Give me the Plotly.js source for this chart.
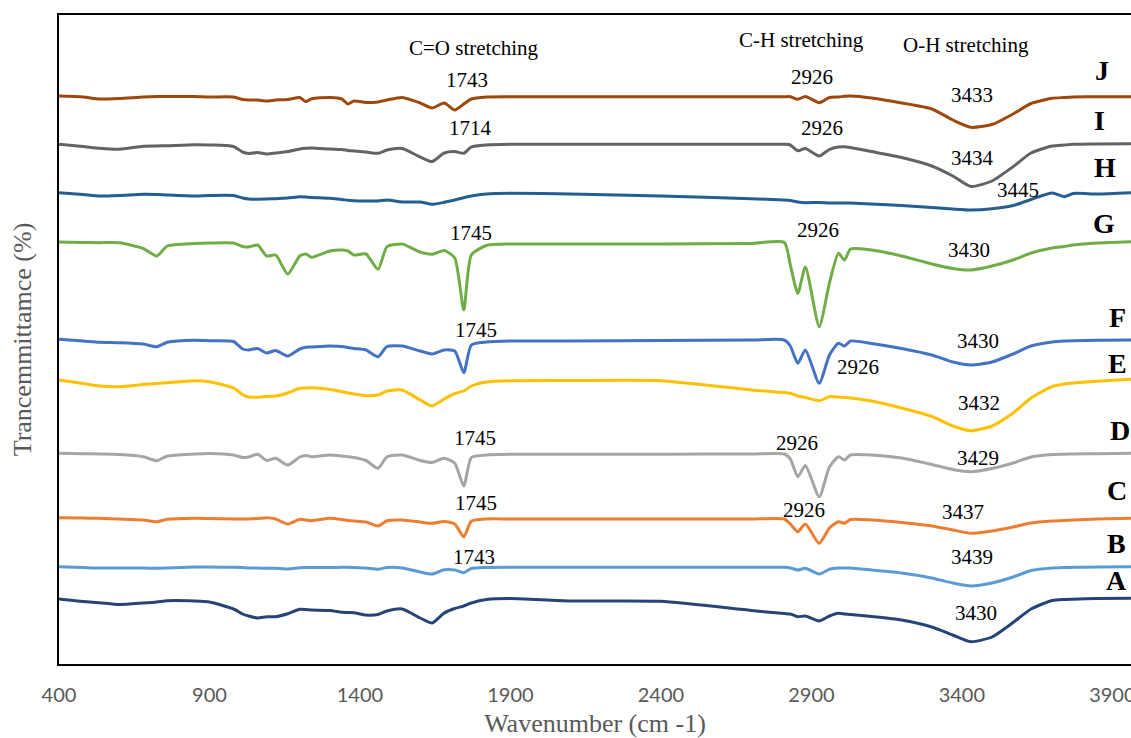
<!DOCTYPE html>
<html><head><meta charset="utf-8">
<script src="https://cdn.plot.ly/plotly-3.0.1.min.js"></script>
<style>html,body{margin:0;padding:0;background:#fff}#chart{width:1131px;height:738px}</style>
</head><body><div id="chart"></div>
<script>
// Shared wavenumber grid (cm-1)
const wavenumber = [400,480,535,600,680,725,760,850,900,980,1010,1030,1060,1090,1120,1160,1200,1220,1240,1300,1340,1360,1380,1420,1460,1490,1540,1600,1640,1680,1715,1745,1770,1820,1900,2100,2400,2700,2810,2830,2855,2880,2926,2960,2990,3010,3030,3100,3200,3300,3370,3430,3500,3570,3630,3700,3740,3770,3850,3962];

// Stacked (offset) transmittance, arbitrary units
const seriesA = [67,64.5,63.3,61.5,63,64,65.3,65,64,57,52,50,48,49.3,49.3,52.3,56.7,56.5,56,55.5,53.7,53.5,53.3,51,51.5,55,57,48,43,53,57.5,60,63,66.5,67.5,65,64.7,55.5,52.5,52,49.3,50,45,50,52.7,52,51.5,49.5,46,39,31,24.3,29,43.5,57,65.5,66.5,66.8,67.5,67.7];
const seriesB = [99.3,98.5,98,98,98,97.7,98,99,99,98.7,98.5,98,98,97.7,97.7,97,98.3,98.5,98.5,98.5,98.7,98.7,98.5,98,96.7,98.5,98,94,92,96.2,96,93.3,97.5,98.5,98.7,98.7,98.7,98.7,98.7,98,96,97.7,92,96.7,98,98,98,96,93,88,83,80,83,89,95.5,98,98.5,98.7,99,99.3];
const seriesC = [148.3,148,147.7,147,146,144.3,146.7,147.7,147.5,147,147,147,147.5,148.3,147,142,146.7,146,145.3,147.7,146.5,145.5,145,144,140,145.3,146,144,142.7,144.5,142,129.3,144.7,147,147,147,147,147,147,142,134.3,142,122.7,138,144.3,142.7,146.5,146,143.5,140,136,132.7,135,139,143,145,145.5,146,147,147.7];
const seriesD = [212.7,212.3,212,211.5,209.3,205.3,210,212,212.5,211,208.5,209,211.7,205.5,207.7,201,209,210.5,209.3,211,210,209.3,208.5,205.5,197.7,209.3,211,205.5,203.5,207.7,202.7,180,208.5,211,211.7,211.7,211.8,212,212,207,189.3,200.5,169.3,199,209.3,206,211,211,208,201.5,196.5,194.3,197.5,203,209,211.5,211.8,212,212.3,212.7];
const seriesE = [286,282.5,280,279.3,281.5,282.5,283.3,285.3,284.3,278,271.5,269,268.7,269.5,270,273,277.7,278,278.3,276.5,274.3,273,272,270.3,271,275,276,266,260,267,272.5,275,280,284,285.3,285.5,285.3,276,273.5,272.7,270,268.5,265.3,269.3,269,268.5,268,265,258,249.5,240,235.3,240,253,268,279.5,282,283,284.7,286.7];
const seriesF = [326.7,325,323.7,323.3,322,319.3,323.7,325.8,325.3,324.5,317,316,317.5,313,315.5,310,317,318.7,319,320,319.5,318.5,317.5,316,309.3,319.5,320,315,312,316,315,293.3,321,324,325,325,325.5,326,326,320,302.7,316,282.7,311,322.7,320,325,322.5,317.5,311,304,301,304,312,320,324,325,325.3,325.7,326];
const seriesG = [424,423.5,423.3,423.3,417.5,410,420,422.5,423,423,419.5,419,421,410,411,392,410,412,408.7,415,416,415,411,412,396.7,419.3,422,414,411.7,415.5,408,356,411,420.5,422,422,422,422.5,423.5,401,372.7,399,339.3,383,412.7,406,417,416,410,402,397.5,396,400,406,413,418,419.5,421,423,424.3];
const seriesH = [473.3,471.5,470,470.5,471.7,471.5,471,470,470.5,470.5,468,467,466.7,467,467.3,468,469.3,469,468.5,467.7,466.5,465.7,465.3,465,465,466,464,464,461.7,463.7,466,468.3,470,472,472.7,472,470,467.3,466,465.5,464,463.3,463.5,463,463,463,463,462,460.5,458.5,457,456,457.2,460.5,466.5,473,469.3,472.5,472,473.3];
const seriesI = [521.7,519.5,517.7,516.7,519.7,520,520.3,521.3,521,519.5,514,512.5,513.5,512,513,514.5,517,517.7,518,517,516.5,515.5,515,514,512.7,516,517.5,509,504.5,513,514.5,512.7,519,521,521.7,521.7,521.7,521.7,521.7,521,515.3,517.5,510,516.5,519,519.3,518.5,514.5,508.5,500,490,479.5,485,499.3,513,520,521,521.7,522,522.2];
const seriesJ = [570,569,567,567.5,569,569.5,569.5,569.5,569,569,566.5,566,566,565,566,566.5,568.5,564.5,567.3,568.5,567,562,565,563.5,564,566,568.5,563,558,563,556,562,567,569,569.3,569.3,569.3,569.3,569.3,569.3,566.7,569.5,563.3,568.5,569,569.7,570,568,563,557,546,538.7,541.5,552,562.5,567.7,568.5,569,569.3,569.3];

const seriesNames = ['A','B','C','D','E','F','G','H','I','J'];
const seriesValues = [seriesA,seriesB,seriesC,seriesD,seriesE,seriesF,seriesG,seriesH,seriesI,seriesJ];
const xTickValues = [400,900,1400,1900,2400,2900,3400,3900];

// styles
const seriesColors = ['#264478','#5B9BD5','#ED7D31','#A5A5A5','#FFC000','#4472C4','#70AD47','#255E91','#636363','#9E480E'];

const traces = seriesNames.map((n,i)=>({
  type:'scatter', mode:'lines', name:n, x:wavenumber, y:seriesValues[i],
  line:{color:seriesColors[i], width:3, shape:'spline', smoothing:0.6},
  hoverinfo:'x+name'
}));

const serif = 'Liberation Serif, Times New Roman, serif';
function lab(text,x,y,size,bold){
  return {text: bold?('<b>'+text+'</b>'):text, x:x, y:y, xref:'x', yref:'y', showarrow:false,
    xanchor:'center', yanchor:'middle', font:{family:serif, size:size, color:'#000'}};
}
const annotations = [
  lab('C=O stretching',1778,618,21), lab('C-H stretching',2868,626,21), lab('O-H stretching',3413,621,21),
  lab('1743',1755,586,21), lab('2926',2901,589,21), lab('3433',3433,571,21),
  lab('1714',1768,538,21), lab('2926',2935,538,21), lab('3434',3436,508,21),
  lab('3445',3586,476,21),
  lab('1745',1768,433,21), lab('2926',2921,436,21), lab('3430',3423,416,21),
  lab('1745',1785,336,21), lab('3430',3453,325,21), lab('2926',3054,299,21),
  lab('3432',3456,263,21),
  lab('1745',1781,228,21), lab('2926',2852,223,21), lab('3429',3453,208,21),
  lab('1745',1785,163,21), lab('2926',2875,156,21), lab('3437',3403,154,21),
  lab('1743',1778,109,21), lab('3439',3433,109,21),
  lab('3430',3446,53,21),
  lab('J',3865,596,28,true), lab('I',3858,546,28,true), lab('H',3875,499,28,true),
  lab('G',3871,443,28,true), lab('F',3918,349,28,true), lab('E',3918,303,28,true),
  lab('D',3925,236,28,true), lab('C',3915,176,28,true), lab('B',3915,123,28,true),
  lab('A',3915,86,28,true)
];

const layout = {
  width:1131, height:738,
  margin:{l:59, r:0, t:15, b:74},
  paper_bgcolor:'#fff', plot_bgcolor:'#fff',
  showlegend:false,
  xaxis:{
    range:[400,3962], tickvals:xTickValues, ticktext:xTickValues.map(String),
    showgrid:false, zeroline:false, showline:true, linecolor:'#000', linewidth:2, mirror:true,
    ticks:'', ticklabelstandoff:12, ticklabeloverflow:'allow',
    tickfont:{family:'Lato, Carlito, Calibri, sans-serif', size:20, color:'#595959'},
    title:{text:'Wavenumber (cm -1)', standoff:22, font:{family:serif, size:26, color:'#595959'}}
  },
  yaxis:{
    range:[2,651], showgrid:false, zeroline:false, showline:true, linecolor:'#000', linewidth:2,
    showticklabels:false, ticks:'',
    title:{text:'Trancemmittamce (%)', standoff:18, font:{family:serif, size:26, color:'#595959'}}
  },
  annotations: annotations
};

Plotly.newPlot('chart', traces, layout, {staticPlot:true, displayModeBar:false});
</script>
</body></html>
